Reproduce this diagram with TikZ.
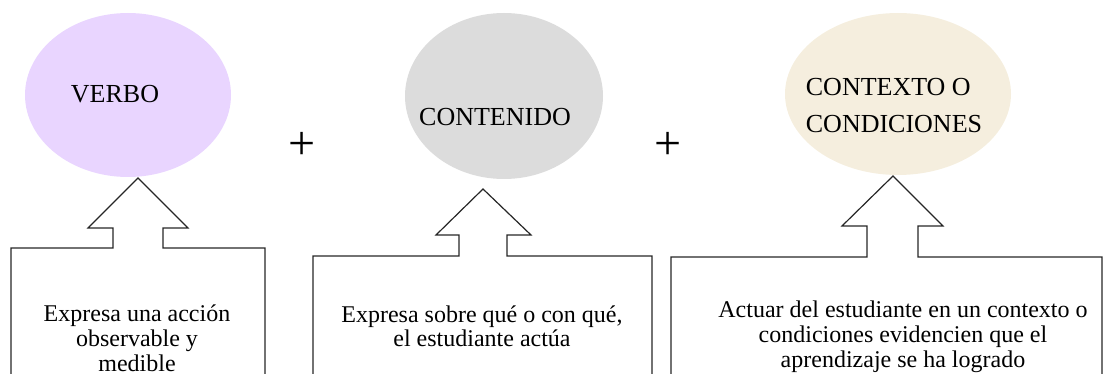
\documentclass[tikz,border=0pt]{standalone}
\usepackage{fontspec}
\setmainfont{Liberation Serif}
\usetikzlibrary{shapes.geometric}

\definecolor{verbofill}{RGB}{233,213,255}
\definecolor{contfill}{RGB}{220,220,220}
\definecolor{condfill}{RGB}{245,238,222}

\begin{document}
\begin{tikzpicture}[x=0.5pt, y=-0.5pt,
    oval/.style={ellipse, inner sep=0pt, draw=none},
    ovaltext/.style={font=\fontsize{13}{18.5}\selectfont, inner sep=0pt},
    boxtext/.style={font=\fontsize{12}{12.5}\selectfont, align=center, inner sep=0pt},
    callout/.style={draw=black!85, line width=0.6pt, line join=miter},
    plus/.style={font=\fontsize{24}{24}\selectfont, inner sep=0pt}]
    \useasboundingbox (0, 0) rectangle (1104, 374);
    \clip (0, 0) rectangle (1104, 374);

    % Ovals
    \node[oval, fill=verbofill, minimum width=103pt, minimum height=82pt] (verbo) at (128, 95) {};
    \node[oval, fill=contfill, minimum width=99pt, minimum height=83pt] (contenido) at (504, 96) {};
    \node[oval, fill=condfill, minimum width=113pt, minimum height=81pt] (contexto) at (898, 94) {};

    % Oval labels
    \node[ovaltext] (verbolabel) at (115, 94) {VERBO};
    \node[ovaltext] (contlabel) at (495, 117) {CONTENIDO};
    \node[ovaltext, align=left] (condlabel) at (894, 106) {CONTEXTO O\\CONDICIONES};

    % Plus signs
    \node[plus] (plusone) at (302, 146) {+};
    \node[plus] (plustwo) at (668, 146) {+};

    % Callout boxes with up arrows
    \draw[callout] (11, 390) -- (11, 248) -- (113, 248) -- (113, 228) -- (88, 228)
        -- (138, 178) -- (188, 228) -- (163, 228) -- (163, 248) -- (265, 248) -- (265, 390);
    \draw[callout] (313, 390) -- (313, 256) -- (459, 256) -- (459, 235) -- (436, 235)
        -- (483, 189) -- (531, 235) -- (507, 235) -- (507, 256) -- (652, 256) -- (652, 390);
    \draw[callout] (671, 390) -- (671, 257) -- (867, 257) -- (867, 226) -- (842, 226)
        -- (893, 176) -- (943, 226) -- (918, 226) -- (918, 257) -- (1102, 257) -- (1102, 390);

    % Box texts
    \node[boxtext] (verbotext) at (137, 338) {Expresa una acción\\observable y\\medible};
    \node[boxtext, font=\fontsize{12}{10}\selectfont] (conttext) at (482, 326) {Expresa sobre qué o con qué,\\el estudiante actúa};
    \node[boxtext] (condtext) at (903, 337) {Actuar del estudiante en un contexto o\\condiciones evidencien que el\\aprendizaje se ha logrado};
\end{tikzpicture}
\end{document}
